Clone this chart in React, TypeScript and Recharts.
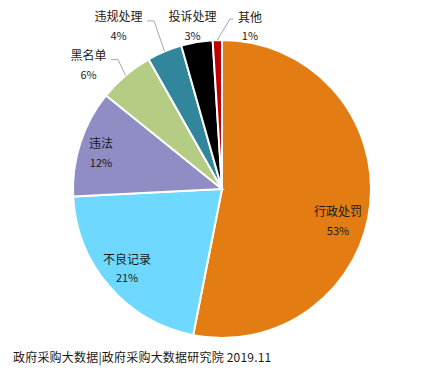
import React from 'react';
import { PieChart, Pie, Cell } from 'recharts';

const categories = ['行政处罚', '不良记录', '违法', '黑名单', '违规处理', '投诉处理', '其他'];
const shares = [53.1, 21.1, 11.6, 6.0, 3.8, 3.4, 1.0];
const percentLabels = ['53%', '21%', '12%', '6%', '4%', '3%', '1%'];
const colors = ['#E47C14', '#6FD8FF', '#8F8DC4', '#B5CC84', '#31869B', '#000000', '#C00000'];
const footer = '政府采购大数据|政府采购大数据研究院 2019.11';

const data = categories.map((name, i) => ({ name, value: shares[i] }));

// label placement: radius factor and angle shift from slice mid angle
const labelLayout = [
  { r: 0.806, shift: -9.38, leader: null },
  { r: 0.827, shift: -1.26, leader: null },
  { r: 0.849, shift: 1, leader: null },
  { r: 1.227, shift: 6.58, leader: 'right' },
  { r: 1.299, shift: 9.62, leader: 'right' },
  { r: 1.115, shift: 0.48, leader: null },
  { r: 1.113, shift: -11.5, leader: 'left' },
];

const RAD = Math.PI / 180;
const FONT = '"Noto Sans CJK SC", "Noto Sans", sans-serif';

const renderLabel = (props: any) => {
  const { cx, cy, midAngle, outerRadius, index } = props;
  const lay = labelLayout[index];
  const ang = midAngle + lay.shift;
  const r = outerRadius * lay.r;
  const x = cx + r * Math.cos(-ang * RAD);
  const y = cy + r * Math.sin(-ang * RAD);
  const nameY = y - 9.5;
  const pctY = y + 9.5;
  const name = categories[index];
  const halfW = (name.length * 12) / 2;
  let leader = null;
  if (lay.leader) {
    const sx = cx + outerRadius * Math.cos(-midAngle * RAD);
    const sy = cy + outerRadius * Math.sin(-midAngle * RAD);
    const ly = nameY + 5;
    let pts;
    if (lay.leader === 'right') {
      const right = x + halfW;
      pts = `${sx},${sy} ${right + 11.5},${ly} ${right + 4.5},${ly}`;
    } else {
      const left = x - halfW;
      pts = `${sx},${sy} ${left - 8},${ly - 2} ${left - 5},${ly - 2}`;
    }
    leader = <polyline points={pts} fill="none" stroke="#A6A6A6" strokeWidth={1} />;
  }
  return (
    <g key={`lbl-${index}`}>
      {leader}
      <text x={x} y={nameY} textAnchor="middle" dominantBaseline="central" fontSize={12} fontFamily={FONT} fill="#1a1a1a">
        {name}
      </text>
      <text x={x} y={pctY} textAnchor="middle" dominantBaseline="central" fontSize={11} fontFamily={FONT} fill="#1a1a1a">
        {percentLabels[index]}
      </text>
    </g>
  );
};

export default function App() {
  return (
    <div style={{ position: 'absolute', left: 0, top: 0, width: 441, height: 377, background: '#fff', overflow: 'hidden' }}>
      <PieChart width={441} height={377} margin={{ top: 0, right: 0, bottom: 0, left: 0 }}>
        <Pie
          data={data}
          dataKey="value"
          nameKey="name"
          cx={222}
          cy={189}
          outerRadius={149}
          startAngle={90}
          endAngle={-270}
          stroke="#ffffff"
          strokeWidth={2}
          label={renderLabel}
          labelLine={false}
          isAnimationActive={false}
        >
          {data.map((d, i) => (
            <Cell key={d.name} fill={colors[i]} />
          ))}
        </Pie>
      </PieChart>
      <div
        style={{
          position: 'absolute',
          left: 13,
          top: 348,
          fontSize: 12,
          lineHeight: '18px',
          letterSpacing: '0.2px',
          fontFamily: FONT,
          color: '#1a1a1a',
          whiteSpace: 'nowrap',
        }}
      >
        {footer}
      </div>
    </div>
  );
}
